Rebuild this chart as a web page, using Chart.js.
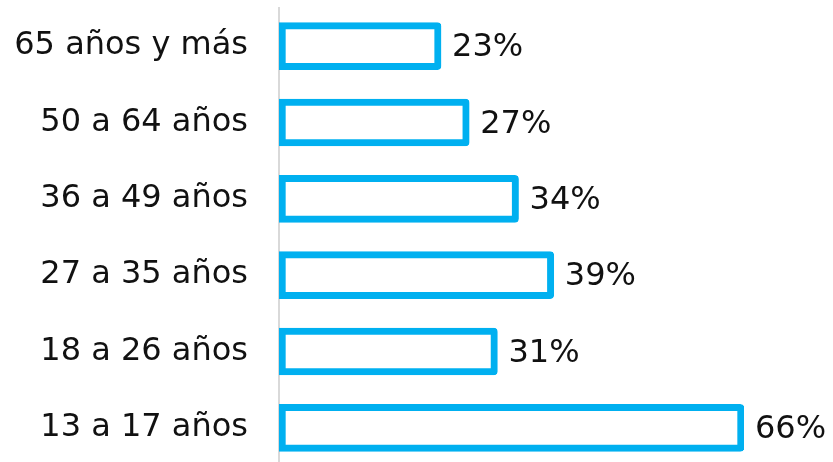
<!DOCTYPE html>
<html>
<head>
<meta charset="utf-8">
<script src="https://cdn.jsdelivr.net/npm/chart.js@4"></script>
<style>
    html, body { margin: 0; padding: 0; background: #fff; overflow: hidden; }
    #wrap { width: 833px; height: 466px; position: relative; }
</style>
</head>
<body>
<div id="wrap"><canvas id="age_chart"></canvas></div>
<script>
const ageGroups = ['65 años y más', '50 a 64 años', '36 a 49 años', '27 a 35 años', '18 a 26 años', '13 a 17 años'];
const shares    = [23, 27, 34, 39, 31, 66];

const FONT = "'DejaVu Sans', Verdana, sans-serif";

// writes "NN%" just past the end of each bar
const valueLabels = {
    id: 'valueLabels',
    afterDatasetsDraw(chart) {
        const ctx = chart.ctx;
        const meta = chart.getDatasetMeta(0);
        ctx.save();
        ctx.font = '32px ' + FONT;
        ctx.fillStyle = '#111111';
        ctx.textAlign = 'left';
        ctx.textBaseline = 'middle';
        meta.data.forEach((bar, i) => {
            ctx.fillText(shares[i] + '%', bar.x + 11, bar.y + 2);
        });
        ctx.restore();
    }
};

new Chart(document.getElementById('age_chart'), {
    type: 'bar',
    data: {
        labels: ageGroups,
        datasets: [{
            data: shares,
            backgroundColor: '#ffffff',
            borderColor: '#00b0f0',
            borderWidth: 7,
            borderSkipped: false,
            borderRadius: { topRight: 4, bottomRight: 4, topLeft: 0, bottomLeft: 0 },
            barThickness: 47,
        }]
    },
    options: {
        indexAxis: 'y',
        responsive: true,
        maintainAspectRatio: false,
        animation: false,
        layout: {
            padding: { top: 8, right: 89, bottom: 0, left: 0 }
        },
        plugins: {
            legend: { display: false },
            tooltip: { enabled: false }
        },
        scales: {
            x: {
                display: false,
                min: 0,
                max: 66
            },
            y: {
                grid: { display: false, drawTicks: false },
                border: { display: true, color: '#d9d9d9', width: 2 },
                ticks: {
                    color: '#111111',
                    padding: 31,
                    font: { family: FONT, size: 32 }
                },
                afterFit(scale) {
                    scale.width = 279;
                    // labels sit inside their bands, no extra room needed above/below
                    scale.paddingTop = 0;
                    scale.paddingBottom = 0;
                }
            }
        }
    },
    plugins: [valueLabels]
});
</script>
</body>
</html>
